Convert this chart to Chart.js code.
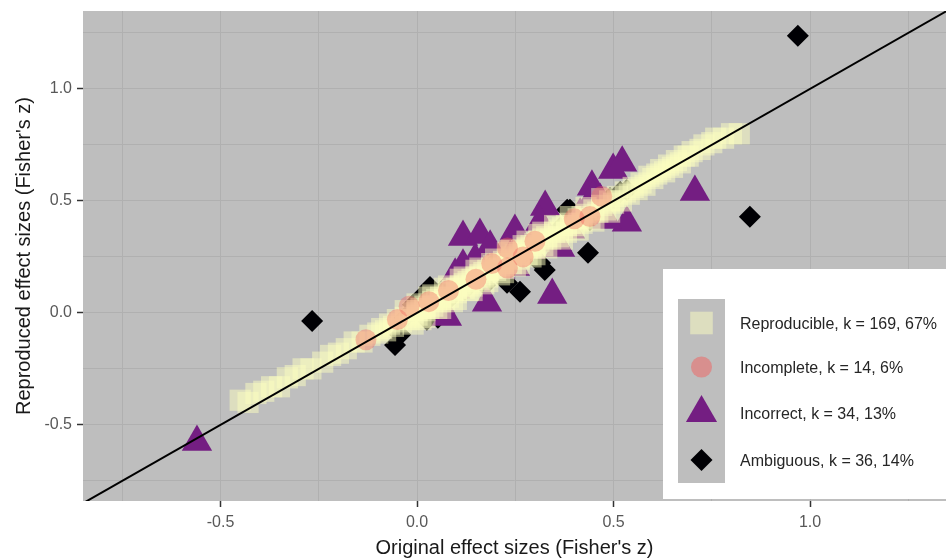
<!DOCTYPE html>
<html>
<head>
<meta charset="utf-8">
<script src="https://cdn.jsdelivr.net/npm/chart.js@4.4.0/dist/chart.umd.min.js"></script>
<style>
  html, body { margin: 0; padding: 0; background: #ffffff; }
  #wrap { width: 946px; height: 559px; position: relative; }
</style>
</head>
<body>
<div id="wrap"><canvas id="c" width="946" height="559"></canvas></div>
<script>
// ---- Data ----
const categories = [
  'Reproducible, k = 169, 67%',
  'Incomplete, k = 14, 6%',
  'Incorrect, k = 34, 13%',
  'Ambiguous, k = 36, 14%'
];

const reproducible = [
  [-0.45,-0.39],[-0.43,-0.40],[-0.41,-0.36],[-0.39,-0.35],[-0.37,-0.33],[-0.35,-0.33],[-0.33,-0.29],[-0.31,-0.28],
  [-0.29,-0.25],[-0.27,-0.25],[-0.24,-0.22],[-0.22,-0.19],[-0.20,-0.18],[-0.18,-0.16],[-0.16,-0.13],[-0.14,-0.13],[-0.12,-0.10],
  [-0.10,-0.09],[-0.09,-0.07],[-0.08,-0.08],[-0.07,-0.05],[-0.06,-0.06],[-0.05,-0.03],[-0.04,-0.04],[-0.03,-0.02],
  [-0.02,-0.03],[-0.01,0.00],[0.00,0.01],[0.00,-0.01],[0.01,0.02],[0.02,0.01],[0.02,0.03],[0.03,0.02],[0.04,0.05],
  [0.04,0.03],[0.05,0.06],[0.06,0.05],[0.06,0.07],[0.07,0.06],[0.08,0.09],[0.08,0.07],[0.09,0.10],[0.10,0.09],[0.10,0.11],
  [0.11,0.12],[0.12,0.11],[0.12,0.13],[0.13,0.14],[0.14,0.12],[0.14,0.15],[0.15,0.16],[0.16,0.15],[0.16,0.17],[0.17,0.18],
  [0.18,0.16],[0.18,0.19],[0.19,0.20],[0.20,0.19],[0.20,0.21],[0.21,0.22],[0.22,0.20],[0.22,0.23],[0.23,0.24],[0.24,0.22],
  [0.24,0.25],[0.25,0.26],[0.26,0.24],[0.26,0.27],[0.27,0.28],[0.28,0.26],[0.28,0.29],[0.29,0.30],[0.30,0.29],[0.30,0.31],
  [0.31,0.32],[0.32,0.30],[0.32,0.33],[0.33,0.34],[0.34,0.33],[0.35,0.36],[0.36,0.34],[0.36,0.37],[0.37,0.38],[0.38,0.36],
  [0.38,0.39],[0.39,0.40],[0.40,0.39],[0.41,0.42],[0.42,0.40],[0.42,0.43],[0.43,0.44],[0.44,0.42],[0.45,0.46],[0.46,0.45],
  [0.47,0.48],[0.48,0.46],[0.49,0.50],[0.50,0.49],[0.51,0.52],[0.52,0.50],[0.53,0.54],[0.54,0.53],[0.55,0.56],
  [0.56,0.55],[0.57,0.58],[0.58,0.57],[0.59,0.61],[0.60,0.60],[0.61,0.62],[0.62,0.64],[0.63,0.63],[0.64,0.66],[0.65,0.65],
  [0.66,0.68],[0.67,0.67],[0.68,0.70],[0.69,0.70],[0.70,0.72],[0.72,0.73],[0.73,0.75],[0.75,0.76],[0.76,0.78],[0.78,0.78],
  [0.80,0.80],[0.82,0.80],
  [0.01,-0.03],[0.03,0.07],[0.05,0.02],[0.07,0.11],[0.09,0.05],[0.11,0.15],[0.13,0.10],[0.15,0.19],[0.17,0.13],[0.19,0.22],
  [0.21,0.17],[0.23,0.27],[0.25,0.21],[0.27,0.30],[0.29,0.25],[0.31,0.35],[0.33,0.29],[0.35,0.39],[0.37,0.33],[0.39,0.43],
  [0.41,0.37],[0.43,0.47],[0.45,0.41],[0.47,0.51],[0.49,0.45],[-0.01,-0.05],[-0.03,0.01],[0.00,0.04],[0.02,-0.02],[0.04,0.08],
  [0.06,0.02],[0.08,0.12],[0.10,0.06],[0.12,0.16],[0.14,0.10],[0.16,0.20],[0.18,0.14],[0.20,0.24],[0.22,0.18],[0.24,0.28],
  [0.26,0.22],[0.28,0.32],[0.30,0.26],[0.32,0.36]
];

const incomplete = [
  [-0.13,-0.12],[-0.05,-0.03],[-0.02,0.03],[0.03,0.05],[0.08,0.10],[0.15,0.15],[0.19,0.22],
  [0.23,0.29],[0.23,0.20],[0.27,0.25],[0.30,0.32],[0.40,0.42],[0.44,0.43],[0.47,0.52]
];

const incorrect = [
  [-0.560,-0.577],[0.117,0.339],[0.160,0.348],[0.186,0.295],[0.249,0.366],[0.326,0.473],[0.356,0.313],
  [0.117,0.210],[0.148,0.237],[0.178,0.045],[0.344,0.080],[0.237,0.250],[0.076,-0.018],[0.249,0.205],
  [0.313,0.402],[0.364,0.290],[0.445,0.563],[0.499,0.638],[0.522,0.670],[0.534,0.402],[0.483,0.415],
  [0.707,0.540],[0.448,0.518],[0.059,0.036],[0.288,0.281],[0.211,0.192],[0.135,0.147],[0.097,0.103],
  [0.415,0.438],[0.466,0.504],[0.033,0.013],[0.262,0.304],[0.389,0.371],[0.097,0.170]
];

const ambiguous = [
  [-0.267,-0.036],[0.969,1.237],[0.847,0.429],[-0.056,-0.143],[0.435,0.268],[0.262,0.094],[0.229,0.134],
  [0.033,0.116],[0.053,-0.022],[0.025,-0.031],[0.313,0.223],[0.389,0.460],[0.440,0.415],[0.517,0.540],
  [0.534,0.549],[0.135,0.161],[0.382,0.460],[-0.010,0.036],[0.008,0.067],[0.079,0.058],[0.097,0.094],
  [0.160,0.183],[0.199,0.228],[0.288,0.281],[0.338,0.326],[0.364,0.379],[0.478,0.482],[0.491,0.513],
  [-0.043,-0.098],[-0.031,-0.022],[0.071,0.112],[0.173,0.125],[0.325,0.192],[0.466,0.438],[0.262,0.246],
  [0.122,0.103]
];

const identityLine = [[-0.9,-0.9],[1.4,1.4]];

const xTickLabels = ['-0.5','0.0','0.5','1.0'];
const yTickLabels = ['-0.5','0.0','0.5','1.0'];

// ---- Styles ----
const colors = {
  reproducible: 'rgba(252,253,191,0.5)',
  incomplete: 'rgba(241,96,93,0.38)',
  incorrect: 'rgb(116,30,130)',
  ambiguous: 'rgb(0,0,4)'
};
const PANEL = '#bebebe';
const GRID = '#b0b0b0';
const FONT = '"Liberation Sans", Arial, Helvetica, sans-serif';

const toPts = arr => arr.map(p => ({x: p[0], y: p[1]}));
const isMajor = v => Math.abs(v * 2 - Math.round(v * 2)) < 1e-6;

const panelBg = {
  id: 'panelBg',
  beforeDraw(chart) {
    const {ctx, chartArea: a} = chart;
    ctx.save();
    ctx.fillStyle = PANEL;
    ctx.fillRect(a.left, a.top, a.right - a.left, a.bottom - a.top);
    ctx.restore();
  }
};

function drawMarker(ctx, style, x, y, r, color) {
  ctx.save();
  ctx.fillStyle = color;
  ctx.beginPath();
  if (style === 'rect') {
    const s = Math.SQRT1_2 * r;
    ctx.rect(x - s, y - s, 2 * s, 2 * s);
  } else if (style === 'circle') {
    ctx.arc(x, y, r, 0, Math.PI * 2);
  } else if (style === 'triangle') {
    for (let i = 0; i < 3; i++) {
      const a = i * 2 * Math.PI / 3;
      const px = x + Math.sin(a) * r, py = y - Math.cos(a) * r;
      if (i === 0) ctx.moveTo(px, py); else ctx.lineTo(px, py);
    }
    ctx.closePath();
  } else if (style === 'rectRot') {
    ctx.moveTo(x - r, y); ctx.lineTo(x, y - r); ctx.lineTo(x + r, y); ctx.lineTo(x, y + r);
    ctx.closePath();
  }
  ctx.fill();
  ctx.restore();
}

const legendBox = {
  id: 'legendBox',
  afterDraw(chart) {
    const ctx = chart.ctx;
    ctx.save();
    ctx.fillStyle = '#ffffff';
    ctx.fillRect(663, 269, 946 - 663, 499 - 269);
    ctx.fillStyle = PANEL;
    ctx.fillRect(678, 299, 47, 184);
    const items = [
      {style: 'rect', r: 16, color: 'rgba(252,253,191,0.5)', y: 323},
      {style: 'circle', r: 10.5, color: 'rgba(241,96,93,0.5)', y: 367},
      {style: 'triangle', r: 18, color: colors.incorrect, y: 413},
      {style: 'rectRot', r: 11, color: colors.ambiguous, y: 460}
    ];
    ctx.font = '16px ' + FONT;
    ctx.textBaseline = 'middle';
    ctx.textAlign = 'left';
    items.forEach((it, i) => {
      drawMarker(ctx, it.style, 701.5, it.y, it.r, it.color);
      ctx.fillStyle = '#262626';
      ctx.fillText(categories[i], 740, it.y + 2);
    });
    ctx.restore();
  }
};

const commonGrid = {
  color: GRID,
  lineWidth: 1,
  drawTicks: true,
  tickLength: 6,
  tickWidth: 1.5,
  tickColor: c => (c.tick && isMajor(c.tick.value)) ? '#333333' : 'rgba(0,0,0,0)'
};

new Chart(document.getElementById('c'), {
  type: 'scatter',
  data: {
    datasets: [
      {
        label: 'identity',
        data: toPts(identityLine),
        showLine: true,
        borderColor: '#000000',
        borderWidth: 2,
        pointRadius: 0,
        order: -1
      },
      {
        label: categories[1],
        data: toPts(incomplete),
        pointStyle: 'circle',
        pointRadius: 10.5,
        pointBorderWidth: 0,
        backgroundColor: colors.incomplete,
        borderColor: 'rgba(0,0,0,0)',
        order: 0
      },
      {
        label: categories[0],
        data: toPts(reproducible),
        pointStyle: 'rect',
        pointRadius: 15,
        pointBorderWidth: 0,
        backgroundColor: colors.reproducible,
        borderColor: 'rgba(0,0,0,0)',
        order: 1
      },
      {
        label: categories[2],
        data: toPts(incorrect),
        pointStyle: 'triangle',
        pointRadius: 17.5,
        pointBorderWidth: 0,
        backgroundColor: colors.incorrect,
        borderColor: 'rgba(0,0,0,0)',
        order: 3
      },
      {
        label: categories[3],
        data: toPts(ambiguous),
        pointStyle: 'rectRot',
        pointRadius: 11,
        pointBorderWidth: 0,
        backgroundColor: colors.ambiguous,
        borderColor: 'rgba(0,0,0,0)',
        order: 4
      }
    ]
  },
  options: {
    responsive: false,
    animation: false,
    events: [],
    layout: { autoPadding: false, padding: { top: 11, right: 0, left: 0, bottom: 0 } },
    plugins: { legend: { display: false }, tooltip: { enabled: false }, title: { display: false } },
    scales: {
      x: {
        type: 'linear',
        min: -0.85,
        max: 1.346,
        border: { display: false },
        grid: commonGrid,
        afterFit(s) { s.height = 58; s.paddingLeft = 0; s.paddingRight = 0; },
        ticks: {
          stepSize: 0.25,
          includeBounds: false,
          autoSkip: false,
          maxRotation: 0,
          padding: 6,
          color: '#585858',
          font: { family: FONT, size: 16 },
          callback: v => isMajor(v) ? xTickLabels[Math.round((v + 0.5) * 2)] : ''
        },
        title: {
          display: true,
          text: "Original effect sizes (Fisher's z)",
          color: '#1a1a1a',
          font: { family: FONT, size: 20, lineHeight: 1 },
          padding: { top: 0, bottom: 1 }
        }
      },
      y: {
        type: 'linear',
        min: -0.84,
        max: 1.348,
        border: { display: false },
        grid: commonGrid,
        afterFit(s) { s.width = 83; s.paddingTop = 0; s.paddingBottom = 0; },
        ticks: {
          stepSize: 0.25,
          includeBounds: false,
          autoSkip: false,
          padding: 5,
          color: '#585858',
          font: { family: FONT, size: 16 },
          callback: v => isMajor(v) ? yTickLabels[Math.round((v + 0.5) * 2)] : ''
        },
        title: {
          display: true,
          text: "Reproduced effect sizes (Fisher's z)",
          color: '#1a1a1a',
          font: { family: FONT, size: 20, lineHeight: 1 },
          padding: { top: 14, bottom: 0 }
        }
      }
    }
  },
  plugins: [panelBg, legendBox]
});
</script>
</body>
</html>
